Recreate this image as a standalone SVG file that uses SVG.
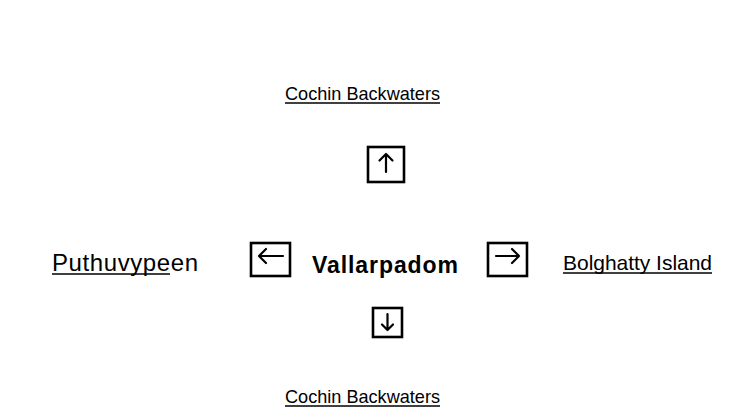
<svg xmlns="http://www.w3.org/2000/svg" width="751" height="411" viewBox="0 0 751 411">
<style>
.t{font-family:"Liberation Sans",Arial,sans-serif;font-size:19px;fill:#000}
.m{font-size:21px}
.p{font-size:24px}
.b{font-weight:bold;font-size:23px}
.u{stroke:#000;stroke-width:1.6}
.box{fill:none;stroke:#000;stroke-width:2.6}
.ar{fill:none;stroke:#000;stroke-width:2.2;stroke-linecap:round;stroke-linejoin:round}
</style>
<rect width="751" height="411" fill="#fff"/>
<g id="cochin-top"><text class="t" x="285" y="100" textLength="155" lengthAdjust="spacingAndGlyphs">Cochin Backwaters</text><line class="u" x1="285" y1="103" x2="440" y2="103"/></g>
<g id="puthuvypeen"><text class="t p" x="52" y="271" textLength="146">Puthuvypeen</text><line class="u" x1="52" y1="274" x2="170" y2="274"/></g>
<g id="vallarpadom"><text class="t b" x="312" y="273" textLength="146">Vallarpadom</text></g>
<g id="bolghatty"><text class="t m" x="563" y="270" textLength="149">Bolghatty Island</text><line class="u" x1="563" y1="273" x2="712" y2="273"/></g>
<g id="cochin-bottom"><text class="t" x="285" y="403" textLength="155" lengthAdjust="spacingAndGlyphs">Cochin Backwaters</text><line class="u" x1="285" y1="406" x2="440" y2="406"/></g>
<g id="connectors">
<g id="up"><rect class="box" x="368" y="147" width="36" height="35"/><path class="ar" d="M386 172V154M379.5 160.5l6.5-6.5 6.5 6.5"/></g>
<g id="left"><rect class="box" x="251" y="243" width="39" height="33"/><path class="ar" d="M283 256H259M266 249l-7 7 7 7"/></g>
<g id="right"><rect class="box" x="488" y="243" width="39" height="33"/><path class="ar" d="M496 256H519M512 249l7 7-7 7"/></g>
<g id="down"><rect class="box" x="373" y="308" width="29" height="29"/><path class="ar" d="M387.5 314V330M382 324.5l5.5 5.5 5.5-5.5"/></g>
</g>
</svg>
